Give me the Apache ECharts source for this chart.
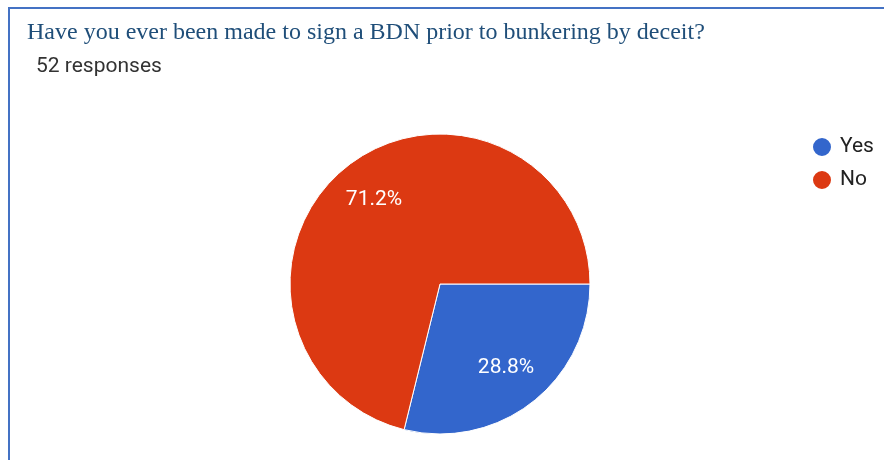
<!DOCTYPE html>
<html>
<head>
<meta charset="utf-8">
<script src="https://cdn.jsdelivr.net/npm/echarts@6/dist/echarts.min.js"></script>
<style>
  html, body { margin: 0; padding: 0; background: #fff; }
  #chart { width: 884px; height: 460px; }
</style>
</head>
<body>
<div id="chart"></div>
<script>
// Survey answers
const categories = ['Yes', 'No'];
const counts = [15, 37];
const colors = ['#3366CC', '#DC3912'];
const questionText = 'Have you ever been made to sign a BDN prior to bunkering by deceit?';
const responsesText = '52 responses';

const total = counts.reduce((a, b) => a + b, 0);
const pct = v => (v / total * 100).toFixed(1) + '%';

const pieData = categories.map((name, i) => ({
  name: name,
  value: counts[i],
  itemStyle: { color: colors[i] }
}));

const chart = echarts.init(document.getElementById('chart'), null, { renderer: 'canvas' });

chart.setOption({
  animation: false,
  backgroundColor: '#ffffff',
  title: [
    {
      text: questionText,
      left: 22,
      top: 16,
      textStyle: {
        fontFamily: 'Liberation Serif',
        fontSize: 24,
        fontWeight: 'normal',
        color: '#1F4E79'
      }
    },
    {
      text: responsesText,
      left: 31,
      top: 51,
      textStyle: {
        fontFamily: 'Roboto',
        fontSize: 21,
        fontWeight: 'normal',
        color: '#333333'
      }
    }
  ],
  legend: {
    orient: 'vertical',
    left: 806,
    top: 131,
    icon: 'circle',
    itemWidth: 20,
    itemHeight: 20,
    itemGap: 11,
    data: categories,
    textStyle: { fontFamily: 'Roboto', fontSize: 21, color: '#222222', padding: [0, 0, 0, 3] }
  },
  graphic: [
    { type: 'line', shape: { x1: 8, y1: 8, x2: 884, y2: 8 }, style: { stroke: '#4472C4', lineWidth: 2 } },
    { type: 'line', shape: { x1: 9, y1: 7, x2: 9, y2: 460 }, style: { stroke: '#4472C4', lineWidth: 2 } }
  ],
  series: [
    {
      type: 'pie',
      center: [440, 284],
      radius: 150,
      startAngle: 0,
      clockwise: true,
      avoidLabelOverlap: false,
      label: { show: false },
      labelLine: { show: false },
      itemStyle: { borderColor: '#ffffff', borderWidth: 1 },
      emphasis: { disabled: true },
      data: pieData
    },
    {
      // transparent ring that carries the percentage labels
      type: 'pie',
      center: [440, 284],
      radius: [58, 150],
      startAngle: 0,
      clockwise: true,
      silent: true,
      legendHoverLink: false,
      itemStyle: { color: 'rgba(0,0,0,0)', borderWidth: 0 },
      label: {
        show: true,
        position: 'inside',
        formatter: p => pct(p.value),
        fontFamily: 'Roboto',
        fontSize: 21,
        color: '#ffffff'
      },
      labelLine: { show: false },
      emphasis: { disabled: true },
      data: categories.map((name, i) => ({ name: name + ' ', value: counts[i] }))
    }
  ]
});
</script>
</body>
</html>
